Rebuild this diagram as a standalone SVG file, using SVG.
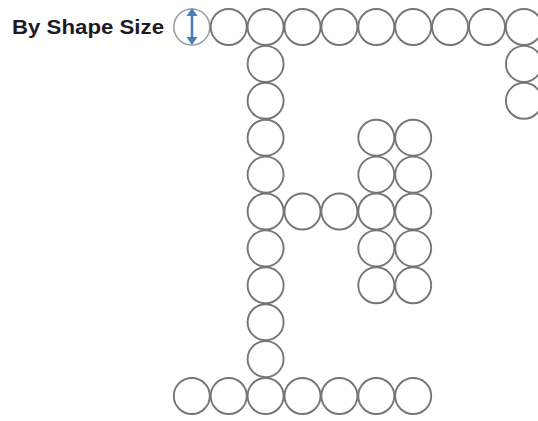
<svg xmlns="http://www.w3.org/2000/svg" xmlns:xlink="http://www.w3.org/1999/xlink" width="538" height="421" viewBox="0 0 538 421">
<style>
.c{fill:none;stroke:#767676;stroke-width:1.9}
.sel{fill:none;stroke:#9a9fa6;stroke-width:1.6}
.lbl{font-family:"Liberation Sans",Arial,sans-serif;font-weight:bold;font-size:21px;fill:#1c1a28}
.arr{stroke:#4a7ebb;stroke-width:2.6;fill:none}
.ah{fill:#4a7ebb}
</style>
<rect width="538" height="421" fill="#ffffff"/>
<text class="lbl" x="12" y="34" textLength="152" lengthAdjust="spacingAndGlyphs">By Shape Size</text>
<g id="n-sel">
<circle class="sel" cx="191.8" cy="27" r="18"/>
<line class="arr" x1="192" y1="15" x2="192" y2="39"/>
<polygon class="ah" points="192,8 186.5,16 197.5,16"/>
<polygon class="ah" points="192,45 186.5,37 197.5,37"/>
</g>
<g id="connectors"></g>
<g id="n-r0c1"><circle class="c" cx="228.7" cy="27" r="18"/></g>
<g id="n-r0c2"><circle class="c" cx="265.6" cy="27" r="18"/></g>
<g id="n-r0c3"><circle class="c" cx="302.5" cy="27" r="18"/></g>
<g id="n-r0c4"><circle class="c" cx="339.4" cy="27" r="18"/></g>
<g id="n-r0c5"><circle class="c" cx="376.3" cy="27" r="18"/></g>
<g id="n-r0c6"><circle class="c" cx="413.2" cy="27" r="18"/></g>
<g id="n-r0c7"><circle class="c" cx="450.1" cy="27" r="18"/></g>
<g id="n-r0c8"><circle class="c" cx="487" cy="27" r="18"/></g>
<g id="n-r0c9"><circle class="c" cx="523.9" cy="27" r="18"/></g>
<g id="n-r1c9"><circle class="c" cx="523.9" cy="63.9" r="18"/></g>
<g id="n-r2c9"><circle class="c" cx="523.9" cy="100.8" r="18"/></g>
<g id="n-r1c2"><circle class="c" cx="265.6" cy="63.9" r="18"/></g>
<g id="n-r2c2"><circle class="c" cx="265.6" cy="100.8" r="18"/></g>
<g id="n-r3c2"><circle class="c" cx="265.6" cy="137.7" r="18"/></g>
<g id="n-r4c2"><circle class="c" cx="265.6" cy="174.6" r="18"/></g>
<g id="n-r5c2"><circle class="c" cx="265.6" cy="211.5" r="18"/></g>
<g id="n-r6c2"><circle class="c" cx="265.6" cy="248.4" r="18"/></g>
<g id="n-r7c2"><circle class="c" cx="265.6" cy="285.3" r="18"/></g>
<g id="n-r8c2"><circle class="c" cx="265.6" cy="322.2" r="18"/></g>
<g id="n-r9c2"><circle class="c" cx="265.6" cy="359.1" r="18"/></g>
<g id="n-r5c3"><circle class="c" cx="302.5" cy="211.5" r="18"/></g>
<g id="n-r5c4"><circle class="c" cx="339.4" cy="211.5" r="18"/></g>
<g id="n-r3c5"><circle class="c" cx="376.3" cy="137.7" r="18"/></g>
<g id="n-r4c5"><circle class="c" cx="376.3" cy="174.6" r="18"/></g>
<g id="n-r5c5"><circle class="c" cx="376.3" cy="211.5" r="18"/></g>
<g id="n-r6c5"><circle class="c" cx="376.3" cy="248.4" r="18"/></g>
<g id="n-r7c5"><circle class="c" cx="376.3" cy="285.3" r="18"/></g>
<g id="n-r3c6"><circle class="c" cx="413.2" cy="137.7" r="18"/></g>
<g id="n-r4c6"><circle class="c" cx="413.2" cy="174.6" r="18"/></g>
<g id="n-r5c6"><circle class="c" cx="413.2" cy="211.5" r="18"/></g>
<g id="n-r6c6"><circle class="c" cx="413.2" cy="248.4" r="18"/></g>
<g id="n-r7c6"><circle class="c" cx="413.2" cy="285.3" r="18"/></g>
<g id="n-r10c0"><circle class="c" cx="191.8" cy="396" r="18"/></g>
<g id="n-r10c1"><circle class="c" cx="228.7" cy="396" r="18"/></g>
<g id="n-r10c2"><circle class="c" cx="265.6" cy="396" r="18"/></g>
<g id="n-r10c3"><circle class="c" cx="302.5" cy="396" r="18"/></g>
<g id="n-r10c4"><circle class="c" cx="339.4" cy="396" r="18"/></g>
<g id="n-r10c5"><circle class="c" cx="376.3" cy="396" r="18"/></g>
<g id="n-r10c6"><circle class="c" cx="413.2" cy="396" r="18"/></g>
</svg>
